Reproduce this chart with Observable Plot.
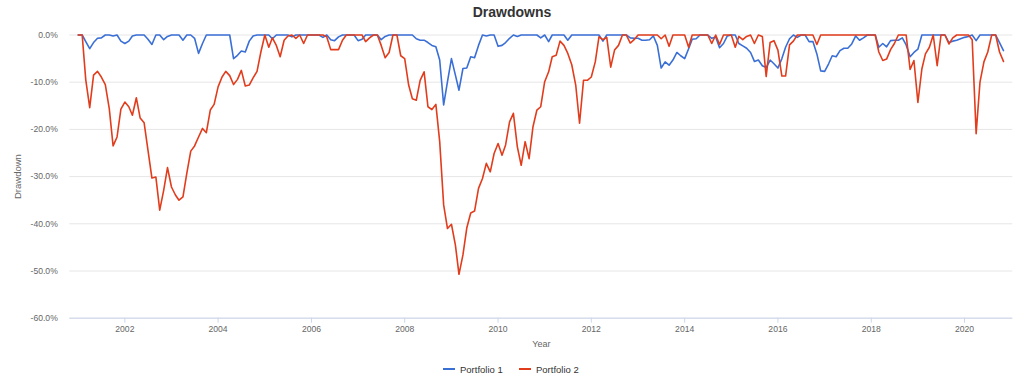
<!DOCTYPE html>
<html>
<head>
<meta charset="utf-8">
<script src="https://cdn.jsdelivr.net/npm/d3@7"></script>
<script src="https://cdn.jsdelivr.net/npm/@observablehq/plot@0.6"></script>
<style>
  body { margin: 0; background: #fff; font-family: "Liberation Sans", Arial, Helvetica, sans-serif; }
  #wrap { position: relative; width: 1024px; height: 383px; overflow: hidden; }
  #title { position: absolute; left: 0; top: 5px; width: 1024px; text-align: center; font-size: 14px; line-height: 14px; font-weight: bold; color: #333; }
  #chart { position: absolute; left: 0; top: 0; }
  .leg { position: absolute; top: 363px; height: 12px; display: flex; align-items: center; font-size: 9.5px; color: #333; white-space: nowrap; }
  .sw { display: inline-block; width: 12px; height: 2px; margin-right: 5px; }
</style>
</head>
<body>
<div id="wrap">
  <div id="chart"></div>
  <div id="title">Drawdowns</div>
  <div id="legend"></div>
</div>
<script>
// ---- data (monthly, Jan 2001 .. Nov 2020), drawdown in % ----
const seriesNames = ["Portfolio 1", "Portfolio 2"];
const seriesColors = ["#3a6fd6", "#e13d1d"];
const yTickValues = [0, -10, -20, -30, -40, -50, -60];
const xTickYears = [2002, 2004, 2006, 2008, 2010, 2012, 2014, 2016, 2018, 2020];

const portfolio1 = [
  0, 0, -1.4, -2.9, -1.6, -0.7, -0.6, 0, 0, -0.2, 0, -1.3,            // 2001
  -1.8, -1.3, -0.2, 0, 0, 0, -0.9, -2.0, 0, 0, -1.0, -0.3,            // 2002
  0, 0, 0, -1.1, 0, 0, -0.7, -3.9, -1.8, 0, 0, 0,                     // 2003
  0, 0, 0, 0, -5.0, -4.3, -3.4, -3.6, -1.3, -0.2, 0, 0,               // 2004
  0, 0, -0.8, 0, 0, 0, 0, -0.4, 0, 0, 0, 0,                           // 2005
  0, 0, 0, -0.5, 0, -1.0, -1.2, -0.4, 0, 0, 0, 0,                     // 2006
  -1.2, -0.9, 0, 0, 0, 0, -1.0, -0.3, 0, 0, 0, 0,                     // 2007
  0, 0, 0, -0.8, -1.1, -1.1, -1.6, -2.2, -2.5, -5.3, -14.8, -9.9,     // 2008
  -5.0, -8.5, -11.7, -7.1, -7.0, -4.6, -4.8, -2.2, 0, -0.2, 0, 0,     // 2009
  -2.4, -2.2, -1.6, -0.7, 0, -0.3, 0, 0, 0, 0, 0, -0.6,               // 2010
  0, -1.4, 0, 0, 0, 0, -1.1, 0, 0, 0, 0, 0,                           // 2011
  0, 0, 0, -1.3, 0, 0, 0, 0, 0, 0, -0.6, -0.7,                        // 2012
  -0.7, -1.1, -1.1, -1.0, -0.2, -2.2, -7.0, -5.7, -6.4, -5.3, -3.7, -4.4, // 2013
  -5.0, -2.9, -0.9, -0.8, 0, 0, 0, -0.7, -0.4, -2.7, -1.8, -0.2,      // 2014
  0, 0, -1.8, -2.3, -2.8, -3.7, -5.6, -5.3, -6.5, -6.9, -5.3, -6.1,   // 2015
  -7.0, -5.0, -2.6, -0.8, 0, -0.5, 0, 0, -1.4, -1.4, -4.0, -7.6,      // 2016
  -7.7, -6.1, -4.4, -4.6, -3.3, -2.8, -2.8, -1.9, -0.2, -1.1, -0.6, 0, // 2017
  0, 0, -2.6, -1.8, -2.5, -1.2, -1.1, -1.1, -0.6, -2.1, -4.6, -3.7,   // 2018
  -3.0, 0, 0, 0, 0, 0, 0, 0, -1.6, -1.3, -1.1, -0.8,                  // 2019
  -0.5, -0.3, 0, -1.2, 0, 0, 0, 0, 0, -1.6, -3.3                      // 2020 (Jan-Nov)
];

const portfolio2 = [
  0, 0, -9.5, -15.4, -8.5, -7.7, -8.9, -10.5, -15.6, -23.5, -21.6, -15.7,        // 2001
  -14.2, -15.2, -17.0, -13.3, -17.6, -18.6, -24.4, -30.3, -30.1, -37.1, -32.9, -28.1, // 2002
  -32.2, -33.9, -35.0, -34.3, -29.3, -24.6, -23.5, -21.6, -19.8, -20.7, -15.9, -14.7, // 2003
  -11.0, -8.9, -7.7, -8.6, -10.5, -9.4, -7.5, -10.8, -10.6, -9.1, -7.7, -3.6,    // 2004
  0, -2.6, -0.6, -2.2, -4.6, -1.1, -0.2, 0, -0.7, 0, -1.8, 0,                    // 2005
  0, 0, 0, 0, -0.4, -3.1, -3.1, -3.1, -1.1, 0, 0, 0,                             // 2006
  0, 0, -1.4, -0.6, 0, 0, -2.2, -4.8, -3.7, 0, 0, -4.4,                          // 2007
  -5.0, -10.6, -13.5, -13.8, -9.6, -7.8, -15.2, -15.8, -14.7, -22.6, -36.0, -41.0, // 2008
  -40.1, -44.5, -50.7, -46.6, -40.9, -37.7, -37.3, -32.5, -30.4, -27.2, -29.0, -25.1, // 2009
  -23.0, -25.5, -23.3, -18.4, -16.6, -23.7, -27.6, -22.6, -26.2, -19.5, -15.9, -15.2, // 2010
  -9.9, -7.8, -4.6, -4.3, -1.3, -2.2, -3.9, -6.3, -10.6, -18.7, -9.6, -9.6,      // 2011
  -8.9, -5.7, -0.4, -1.0, -0.5, -6.8, -3.2, -2.2, 0, 0, -1.7, -1.0,              // 2012
  0, 0, 0, 0, 0, 0, -0.8, 0, -2.4, 0, 0, 0,                                      // 2013
  0, -2.6, 0, 0, 0, 0, 0, -1.8, 0, -2.0, 0, 0,                                   // 2014
  0, -2.6, -0.3, -1.0, -0.3, 0, -1.8, 0, -0.3, -8.8, -1.6, -1.2,                 // 2015
  -3.2, -8.7, -8.7, -2.1, -1.3, 0, 0, 0, 0, 0, -2.0, 0,                          // 2016
  0, 0, 0, 0, 0, 0, 0, 0, 0, 0, 0, 0,                                            // 2017
  0, 0, -3.6, -5.4, -5.1, -3.1, -1.8, 0, 0, 0, -7.3, -5.4,                       // 2018
  -14.3, -7.2, -4.0, -2.6, 0, -6.5, 0, 0, -1.9, -0.6, 0, 0,                      // 2019
  0, 0, -1.0, -20.9, -10.0, -5.7, -3.6, 0, 0, -3.6, -5.6                         // 2020 (Jan-Nov)
];

// ---- build tables ----
const months = d3.utcMonth.range(new Date(Date.UTC(2001, 0, 1)), new Date(Date.UTC(2020, 11, 1)));
const seriesValues = [portfolio1, portfolio2];
const rows = [];
seriesValues.forEach((vals, s) => {
  vals.forEach((v, i) => rows.push({date: months[i], value: v, series: seriesNames[s]}));
});
const xTicks = xTickYears.map(y => new Date(Date.UTC(y, 0, 1)));
const fmtPct = d => (d === 0 ? "0.0" : d.toFixed(1)) + "%";

const chart = Plot.plot({
  width: 1024,
  height: 383,
  marginLeft: 69.3,
  marginRight: 11.7,
  marginTop: 34.5,
  marginBottom: 65.3,
  style: {fontFamily: '"Liberation Sans", Arial, Helvetica, sans-serif', fontSize: "8.6px", color: "#666", background: "transparent", overflow: "visible"},
  x: {type: "utc", domain: [new Date(Date.UTC(2000, 9, 27)), new Date(Date.UTC(2021, 0, 13))]},
  y: {domain: [-60, 0]},
  marks: [
    Plot.gridY(yTickValues, {stroke: "#e6e6e6", strokeOpacity: 1}),
    Plot.ruleY([-60], {stroke: "#ccd6eb", strokeWidth: 1}),
    Plot.axisY(yTickValues, {tickSize: 0, tickPadding: 12, tickFormat: fmtPct, label: null, fill: "#666"}),
    Plot.axisX(xTicks, {tickSize: 5, tickPadding: 3, stroke: "#ccd6eb", tickFormat: d3.utcFormat("%Y"), label: null, fill: "#666"}),
    Plot.text(["Drawdown"], {frameAnchor: "left", dx: -52, rotate: -90, textAnchor: "middle", lineAnchor: "middle", fontSize: 9.5, fill: "#666"}),
    Plot.text(["Year"], {frameAnchor: "bottom", dy: 26.3, textAnchor: "middle", lineAnchor: "middle", fontSize: 9, fill: "#666"}),
    Plot.lineY(rows.filter(d => d.series === seriesNames[0]), {x: "date", y: "value", stroke: seriesColors[0], strokeWidth: 1.6}),
    Plot.lineY(rows.filter(d => d.series === seriesNames[1]), {x: "date", y: "value", stroke: seriesColors[1], strokeWidth: 1.6})
  ]
});
document.getElementById("chart").appendChild(chart);

// ---- legend ----
const legendLefts = [443, 519];
const legend = document.getElementById("legend");
seriesNames.forEach((name, i) => {
  const item = document.createElement("div");
  item.className = "leg";
  item.style.left = legendLefts[i] + "px";
  const sw = document.createElement("span");
  sw.className = "sw";
  sw.style.background = seriesColors[i];
  item.appendChild(sw);
  item.appendChild(document.createTextNode(name));
  legend.appendChild(item);
});
</script>
</body>
</html>
